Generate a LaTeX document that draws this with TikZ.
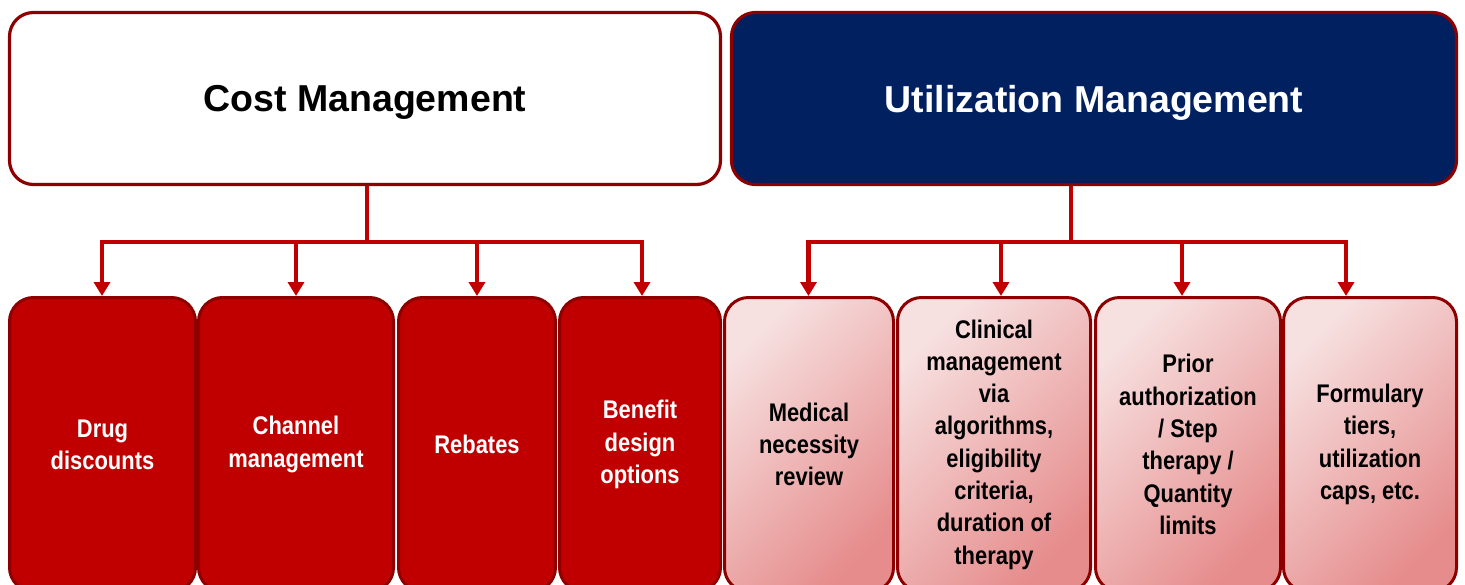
\documentclass[tikz,border=0pt]{standalone}
\usepackage{fontspec}
\setmainfont{Liberation Sans}
\newfontfamily\boxfont[FakeStretch=0.86]{Liberation Sans}
\usetikzlibrary{arrows.meta}

\definecolor{edgered}{HTML}{8E0000}
\definecolor{linkred}{HTML}{C00000}
\definecolor{navy}{HTML}{002060}
\definecolor{pinklight}{HTML}{F7E0E0}
\definecolor{pinkdark}{HTML}{E68C8C}

\tikzset{
  headbox/.style={draw=edgered, line width=3.2pt, rounded corners=24pt,
    minimum height=172pt, inner sep=0pt, align=center, text depth=0pt,
    font=\fontsize{37.5}{44}\selectfont\bfseries},
  leafbox/.style={draw=edgered, line width=3pt, rounded corners=24pt,
    minimum height=294pt, inner sep=0pt, align=center,
    font=\boxfont\fontsize{25.5}{32.3}\selectfont\bfseries},
  costleaf/.style={leafbox, fill=linkred, text=white},
  useleaf/.style={leafbox, top color=pinklight, bottom color=pinkdark,
    shading angle=45, text=black},
  link/.style={draw=linkred, line width=4.5pt},
  arrowlink/.style={link, -{Triangle[width=16pt,length=14pt]}},
}

\begin{document}
\begin{tikzpicture}[x=1pt, y=-1pt]
  \useasboundingbox (0,0) rectangle (1465,584);
  \begin{scope}
    \clip (0,0) rectangle (1465,584);

    % headings
    \node[headbox, fill=white, text=black, minimum width=711pt]
      (cost) at (365,98.5) {Cost Management};
    \node[headbox, fill=navy, text=white, minimum width=725pt]
      (util) at (1094,98.5) {Utilization Management};

    % cost management levers
    \node[costleaf, minimum width=186pt] (drug) at (102.5,444.5) {Drug\\discounts};
    \node[costleaf, minimum width=195pt] (chan) at (296,444.5) {Channel\\management};
    \node[costleaf, minimum width=157pt] (reb) at (477,444.5) {Rebates};
    \node[costleaf, minimum width=161pt] (ben) at (640,444.5) {Benefit\\design\\options};

    % utilization management levers
    \node[useleaf, minimum width=169pt] (med) at (809,444.5) {Medical\\necessity\\review};
    \node[useleaf, minimum width=193pt] (clin) at (994,444.5)
      {Clinical\\management\\via\\algorithms,\\eligibility\\criteria,\\duration of\\therapy};
    \node[useleaf, minimum width=185pt] (prior) at (1188,444.5)
      {Prior\\authorization\\/ Step\\therapy /\\Quantity\\limits};
    \node[useleaf, minimum width=173pt] (form) at (1370,444.5)
      {Formulary\\tiers,\\utilization\\caps, etc.};

    % bus junctions below each heading
    \coordinate (jL) at (367,242);
    \coordinate (jR) at (1071,242);

    % cost management connectors
    \draw[link] ([xshift=2pt]cost.south) -- (jL);
    \draw[arrowlink] (jL) -| ([xshift=-0.5pt]drug.north);
    \draw[arrowlink] (jL) -| (chan.north);
    \draw[arrowlink] (jL) -| (reb.north);
    \draw[arrowlink] (jL) -| ([xshift=2pt]ben.north);

    % utilization management connectors
    \draw[link] ([xshift=-23pt]util.south) -- (jR);
    \draw[arrowlink] (jR) -| ([xshift=-0.5pt]med.north);
    \draw[arrowlink] (jR) -| ([xshift=7pt]clin.north);
    \draw[arrowlink] (jR) -| ([xshift=-6pt]prior.north);
    \draw[arrowlink] (jR) -| ([xshift=-24pt]form.north);
  \end{scope}
\end{tikzpicture}
\end{document}
